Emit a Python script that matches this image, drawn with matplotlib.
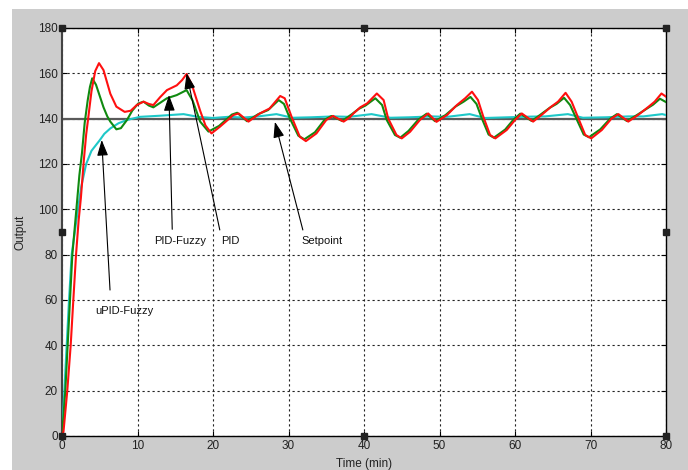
import matplotlib
matplotlib.use("Agg")
import matplotlib.pyplot as plt
from matplotlib.patches import Rectangle

plt.rcParams['font.family'] = ['Liberation Sans', 'DejaVu Sans']

# ---------------- data ----------------
x_ticks = [0, 10, 20, 30, 40, 50, 60, 70, 80]
y_ticks = [0, 20, 40, 60, 80, 100, 120, 140, 160, 180]
setpoint = 140

t_pid = [0, 0.2, 0.7, 1.15, 1.5, 1.86, 2.2, 2.5, 2.9, 3.2, 3.5, 3.9, 4.4, 4.9, 5.5,
         6.4, 7.2, 8.3, 9.1, 9.9, 10.8, 11.5, 12.1, 13.0, 13.9, 15.2, 15.9, 16.5,
         17.2, 18.3, 19.0, 19.8, 20.9, 22.7, 23.4, 24.7, 26.2, 27.5, 28.9, 29.5,
         30.4, 31.5, 32.3, 33.7, 35.0, 35.9, 37.3, 38.1, 38.6, 39.5, 40.4, 41.7,
         42.6, 43.2, 44.3, 45.0, 46.1, 47.4, 48.5, 49.6, 51.0, 52.3, 53.4, 54.3,
         55.1, 55.8, 56.7, 57.4, 58.9, 60.0, 60.9, 62.4, 63.5, 64.8, 65.7, 66.7,
         67.5, 68.4, 69.3, 70.1, 71.5, 72.8, 73.7, 75.0, 76.3, 77.7, 78.5, 79.4, 80]
v_pid = [0, 2, 20, 40, 60, 80, 95, 105, 122, 133, 141, 152, 161, 164.5, 161.4,
         151, 145.3, 143, 143.5, 146, 147.5, 146.5, 146, 149.5, 152.6, 154.7, 157, 159.7,
         155, 143.5, 137, 133.5, 136.4, 141.6, 142.3, 138.7, 142.3, 144.5, 150, 149,
         140.9, 132, 130.1, 133.5, 139.4, 141.2, 138.7, 140.5, 142.3, 145.0, 146.7, 151.1,
         148.2, 140.1, 132.8, 131.3, 134.2, 139.4, 142.3, 138.6, 141.6, 146, 149, 151.9,
         148.2, 140.9, 132.8, 131.3, 135, 139.4, 142.3, 138.7, 141.6, 145.3, 147.5, 151.4,
         147.5, 140.1, 132.8, 131.3, 135, 140.1, 142, 138.7, 141.6, 145.3, 147.5, 151.1, 149.7]

t_pidf = [0, 0.44, 0.75, 1.06, 1.37, 1.85, 2.3, 2.65, 3.0, 3.4, 3.7, 4.0, 4.5, 5.0,
          5.5, 6.0, 6.4, 7.2, 7.8, 8.6, 9.3, 10.1, 10.8, 11.5, 12.1, 13.0, 13.9, 15.2,
          16.5, 17.3, 18.3, 19.4, 20.8, 22.5, 23.2, 24.5, 26.0, 27.3, 28.7, 29.4, 30.2,
          31.3, 32.1, 33.5, 34.8, 35.7, 37.1, 38.4, 39.3, 40.2, 41.5, 42.4, 43.0, 44.1,
          44.8, 45.9, 47.2, 48.3, 49.4, 50.8, 52.1, 53.2, 54.1, 54.9, 55.6, 56.5, 57.2,
          58.7, 59.8, 60.7, 62.2, 63.3, 64.6, 65.5, 66.5, 67.3, 68.2, 69.1, 69.8, 71.3,
          72.6, 73.5, 74.8, 76.1, 77.5, 78.3, 79.2, 80]
v_pidf = [0, 20, 40, 60, 80, 98, 115, 125, 138, 148, 154, 157.8, 155, 150,
          145, 141, 138.7, 135.3, 135.8, 139.4, 143.5, 146.7, 147.5, 145.8, 145, 147, 149, 150.4,
          152.6, 148, 138.7, 134.3, 136.8, 141.8, 142.6, 138.9, 142.0, 143.8, 148.2, 146.5, 140,
          132.5, 130.9, 134, 139.6, 141.2, 139, 142, 144.3, 145.8, 149, 146, 139.5, 132.8,
          131.6, 134.6, 139.6, 142.2, 138.9, 141.6, 145.3, 147.5, 149.6, 146.5, 140.2, 133, 131.6,
          135.2, 139.6, 142.2, 139, 141.6, 144.8, 146.5, 149.2, 146, 139.5, 133, 131.8, 135.3,
          140, 142, 139, 141.5, 144.5, 146.2, 148.8, 147.3]

t_upidf = [0, 0.31, 0.62, 0.93, 1.28, 1.9, 2.2, 2.55, 3.2, 3.9, 5.0, 5.6, 6.4, 7.5,
           8.6, 10.3, 13, 16.1, 18, 20, 22, 24, 26, 28.4, 30.5, 33, 36, 38, 41, 43.5,
           46, 49, 51, 54, 56, 59, 62, 64, 67, 69, 72, 75, 77, 79.5, 80]
v_upidf = [0, 20, 40, 60, 80, 95, 102, 110, 120, 125.8, 130.5, 133.3, 135.7, 138,
           139.4, 140.8, 141.3, 142, 140.8, 140.3, 140.8, 140.5, 141, 142, 140.4, 140.6, 141, 140.8, 142, 140.4,
           140.6, 141, 140.8, 142, 140.3, 140.6, 140.9, 141, 142, 140.4, 140.6, 141, 141, 142, 141.6]

labels = ['uPID-Fuzzy', 'PID-Fuzzy', 'PID', 'Setpoint']
arrow_tips = [(5.26, 130.6), (14.17, 150.4), (16.5, 160.0), (28.2, 138.6)]
arrow_tails = [(6.36, 64.4), (14.6, 91.2), (20.9, 90.9), (31.9, 90.9)]
label_pos = [(4.37, 55.1), (15.6, 86.0), (22.3, 86.0), (34.5, 86.0)]
label_ha = ['left', 'center', 'center', 'center']

# ---------------- figure ----------------
W, H = 688, 470
fig = plt.figure(figsize=(W / 100, H / 100), dpi=100, facecolor='white')
bg = Rectangle((12 / W, 0), 1 - 12 / W, 1 - 9 / H, transform=fig.transFigure,
               facecolor='#cccccc', edgecolor='none', zorder=-10)
fig.add_artist(bg)
ax = fig.add_axes([62 / W, 1 - 436 / H, (666 - 62) / W, (436 - 28) / H])
ax.set_zorder(5)
ax.set_facecolor('white')

ax.axhline(setpoint, color='#5a5a5a', lw=1.6, zorder=2)
ax.plot(t_upidf, v_upidf, color='#1ec8c8', lw=1.5, zorder=3)
ax.plot(t_pidf, v_pidf, color='#108a10', lw=1.5, zorder=4)
ax.plot(t_pid, v_pid, color='#ff1010', lw=1.5, zorder=5)

for lab, tip, tail, pos, ha in zip(labels, arrow_tips, arrow_tails, label_pos, label_ha):
    ax.annotate('', xy=tip, xytext=tail,
                arrowprops=dict(arrowstyle='-|>,head_length=0.8,head_width=0.28',
                                mutation_scale=12, color='black', lw=0.8,
                                shrinkA=0, shrinkB=0), zorder=6)
    ax.text(pos[0], pos[1], lab, ha=ha, va='center', fontsize=8, color='#111111', zorder=6)

ax.set_xlim(0, 80)
ax.set_ylim(0, 180)
ax.set_xticks(x_ticks)
ax.set_yticks(y_ticks)
ax.tick_params(direction='in', length=3.5, width=0.8, top=True, right=True,
               labelsize=8.5, labelcolor='#222222', pad=3)
ax.grid(True, color='#222222', linestyle=(0, (2, 2.5)), linewidth=0.8)
ax.set_axisbelow(True)
for s in ax.spines.values():
    s.set_color('black')
    s.set_linewidth(1.0)
ax.spines['left'].set_color('#444444')
ax.spines['left'].set_linewidth(1.5)

ax.set_xlabel('Time (min)', fontsize=8.5, color='#222222', labelpad=4)
ax.set_ylabel('Output', fontsize=8.5, color='#222222', labelpad=8)

# selection handles
hx = [0, 40, 80, 0, 80, 0, 40, 80]
hy = [180, 180, 180, 90, 90, 0, 0, 0]
ax.plot(hx, hy, 's', color='#222222', markersize=4.2, clip_on=False, zorder=10)

fig.savefig('out.png', dpi=100, facecolor=fig.get_facecolor())
